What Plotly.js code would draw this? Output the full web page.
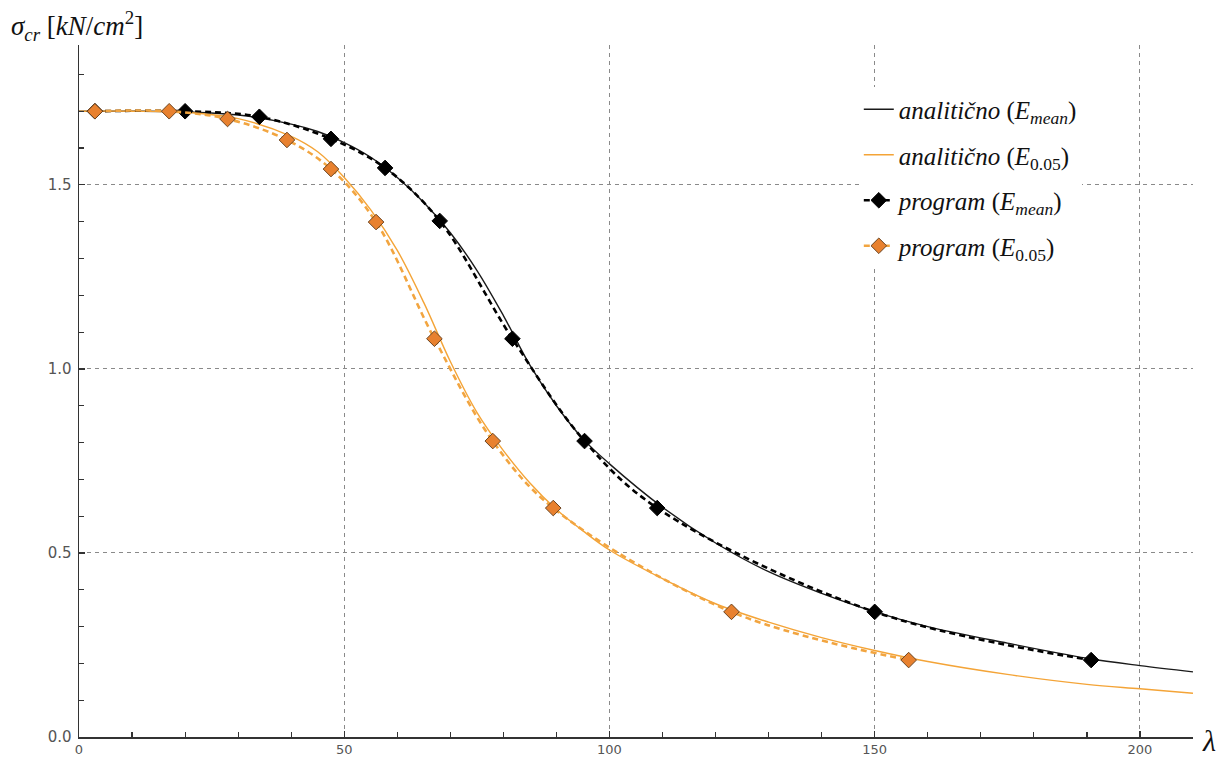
<!DOCTYPE html>
<html>
<head>
<meta charset="utf-8">
<script src="https://cdn.plot.ly/plotly-3.0.1.min.js"></script>
<style>html,body{margin:0;padding:0;background:#fff;}#chart{width:1221px;height:758px;}</style>
</head>
<body>
<div id="chart"></div>
<script>
// Analytical curves
const lambdaAnalytic = [0,10,20,30,40,45,50,55,60,65,70,75,80,85,90,95,100,110,120,130,140,150,160,175,190,200,210];
const sigmaAnalyticMean = [1.70,1.70,1.698,1.69,1.665,1.645,1.615,1.575,1.52,1.452,1.37,1.268,1.145,1.01,0.90,0.81,0.742,0.624,0.527,0.449,0.39,0.34,0.30,0.255,0.214,0.194,0.177];
const sigmaAnalytic005 = [1.70,1.70,1.697,1.68,1.632,1.59,1.52,1.432,1.322,1.18,1.02,0.882,0.778,0.69,0.618,0.56,0.508,0.43,0.362,0.312,0.27,0.235,0.205,0.17,0.143,0.131,0.119];

// Program results (markers)
const lambdaProgMean = [3,20,34,47.5,57.7,68,81.7,95.3,109,150,190.8];
const sigmaProgMean = [1.70,1.70,1.685,1.625,1.546,1.402,1.082,0.804,0.622,0.340,0.209];
const lambdaProg005 = [3,17,28,39.2,47.5,56,67,78,89.4,123,156.4];
const sigmaProg005 = [1.70,1.70,1.679,1.622,1.543,1.399,1.082,0.804,0.622,0.340,0.209];

const names = [
  "<i>analitično</i> (<i>E<sub>mean</sub></i>)",
  "<i>analitično</i> (<i>E</i><sub>0.05</sub>)",
  "<i>program</i> (<i>E<sub>mean</sub></i>)",
  "<i>program</i> (<i>E</i><sub>0.05</sub>)"
];

const traces = [
  {x: lambdaAnalytic, y: sigmaAnalyticMean, mode: "lines", name: names[0], legendgroup: "a",
   line: {color: "#1a1a1a", width: 1.4, shape: "spline", smoothing: 1}},
  {x: lambdaAnalytic, y: sigmaAnalytic005, mode: "lines", name: names[1], legendgroup: "b",
   line: {color: "#F4A437", width: 1.4, shape: "spline", smoothing: 1}},
  {x: lambdaProgMean, y: sigmaProgMean, mode: "lines+markers", name: names[2], legendgroup: "c",
   line: {color: "#000000", width: 2.6, dash: "6px,4px", shape: "spline", smoothing: 1},
   marker: {symbol: "diamond", size: 12, color: "#000000", line: {color: "#000", width: 1}}},
  {x: lambdaProg005, y: sigmaProg005, mode: "lines+markers", name: names[3], legendgroup: "d",
   line: {color: "#F2A540", width: 2.6, dash: "6px,4px", shape: "spline", smoothing: 1},
   marker: {symbol: "diamond", size: 12, color: "#E8812F", line: {color: "#6b4420", width: 1}}}
];

const layout = {
  width: 1221, height: 758,
  margin: {l: 79, r: 28, t: 45, b: 21, pad: 0},
  paper_bgcolor: "#fff", plot_bgcolor: "#fff",
  showlegend: true,
  legend: {
    x: 0.70, y: 0.94, xanchor: "left", yanchor: "top",
    bgcolor: "#ffffff", borderwidth: 0,
    font: {family: "Liberation Serif, DejaVu Serif, serif", size: 25, color: "#111"},
    tracegroupgap: 10
  },
  xaxis: {
    range: [0, 210], autorange: false, fixedrange: true,
    tickmode: "linear", tick0: 0, dtick: 50,
    ticks: "inside", ticklen: 6, tickcolor: "#333", tickwidth: 1.2,
    minor: {dtick: 10, tick0: 0, ticks: "inside", ticklen: 5, tickcolor: "#333", tickwidth: 1.2, showgrid: false},
    showline: true, linecolor: "#333", linewidth: 1.5,
    showgrid: true, gridcolor: "#8a8a8a", griddash: "4px,4px", gridwidth: 1,
    zeroline: false, automargin: false,
    tickfont: {family: "DejaVu Sans, sans-serif", size: 13, color: "#555"}
  },
  yaxis: {
    range: [0, 1.88], autorange: false, fixedrange: true,
    tickmode: "linear", tick0: 0, dtick: 0.5, tickformat: ".1f",
    ticks: "inside", ticklen: 6, tickcolor: "#333", tickwidth: 1.2,
    minor: {dtick: 0.1, tick0: 0, ticks: "inside", ticklen: 5, tickcolor: "#333", tickwidth: 1.2, showgrid: false},
    showline: true, linecolor: "#333", linewidth: 1.5,
    showgrid: true, gridcolor: "#8a8a8a", griddash: "4px,4px", gridwidth: 1,
    zeroline: false, automargin: false, ticklabelstandoff: 3,
    tickfont: {family: "DejaVu Sans, sans-serif", size: 15, color: "#555"}
  },
  annotations: [
    {xref: "paper", yref: "paper", x: -0.063, y: 1.028, xanchor: "left", yanchor: "middle",
     text: "<i>σ<sub>cr</sub></i> [<i>kN</i>/<i>cm</i><sup>2</sup>]", showarrow: false,
     font: {family: "Liberation Serif, DejaVu Serif, serif", size: 27, color: "#111"}},
    {xref: "paper", yref: "paper", x: 1.006, y: -0.005, xanchor: "left", yanchor: "middle",
     text: "<i>λ</i>", showarrow: false,
     font: {family: "Liberation Serif, DejaVu Serif, serif", size: 30, color: "#111"}}
  ]
};

Plotly.newPlot("chart", traces, layout, {displayModeBar: false, staticPlot: true});
</script>
</body>
</html>
